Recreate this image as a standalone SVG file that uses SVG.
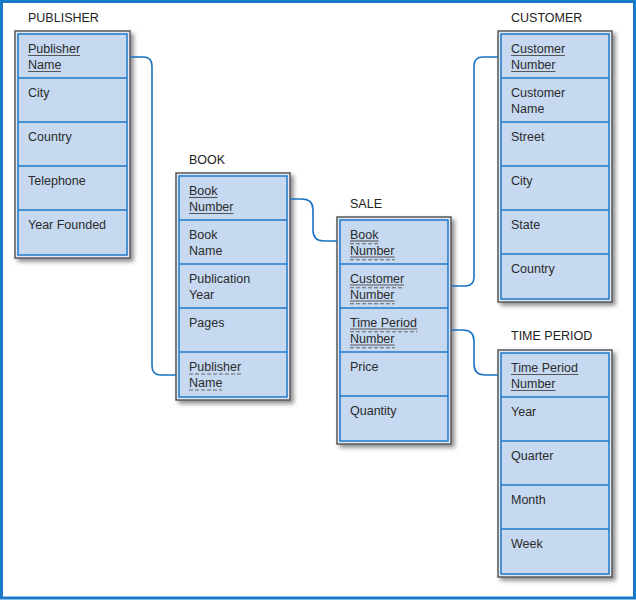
<svg xmlns="http://www.w3.org/2000/svg" width="636" height="600" viewBox="0 0 636 600">
<defs>
<filter id="sh" x="-10%" y="-10%" width="130%" height="130%">
<feDropShadow dx="3" dy="3" stdDeviation="2" flood-color="#444" flood-opacity="0.6"/>
</filter>
<style>
.outer{fill:#dfe9f5;stroke:#5a5a5a;stroke-width:1.5;filter:url(#sh)}
.inner{fill:#c6d9f1;stroke:#1f78c8;stroke-width:1.5}
.row{stroke:#1f78c8;stroke-width:1.5}
.t{font-family:"Liberation Sans",Arial,sans-serif;font-size:12.5px;fill:#2b2b2b}
.title{font-family:"Liberation Sans",Arial,sans-serif;font-size:12.5px;fill:#222}
.u{stroke:#555;stroke-width:1.1}
.d{stroke:#666;stroke-width:1.1;stroke-dasharray:4 2}
.c{fill:none;stroke:#1a72c2;stroke-width:1.6}
</style>
</defs>
<rect x="1.5" y="1.5" width="633" height="596.5" fill="#fff" stroke="#1a7ac8" stroke-width="3"/>

<g id="publisher">
<text class="title" x="28" y="22">PUBLISHER</text>
<rect class="outer" x="15" y="31" width="115" height="227"/>
<rect class="inner" x="18" y="34" width="109" height="221"/>
<line class="row" x1="18" y1="78" x2="127" y2="78"/>
<line class="row" x1="18" y1="122" x2="127" y2="122"/>
<line class="row" x1="18" y1="166" x2="127" y2="166"/>
<line class="row" x1="18" y1="210" x2="127" y2="210"/>
<text class="t" x="28" y="53">Publisher</text><text class="t" x="28" y="69">Name</text>
<line class="u" x1="28" y1="55.5" x2="80" y2="55.5"/><line class="u" x1="28" y1="71.5" x2="61" y2="71.5"/>
<text class="t" x="28" y="97">City</text>
<text class="t" x="28" y="141">Country</text>
<text class="t" x="28" y="185">Telephone</text>
<text class="t" x="28" y="229">Year Founded</text>
</g>

<g id="book">
<text class="title" x="189" y="164">BOOK</text>
<rect class="outer" x="176" y="173" width="114" height="227"/>
<rect class="inner" x="179" y="176" width="108" height="221"/>
<line class="row" x1="179" y1="220" x2="287" y2="220"/>
<line class="row" x1="179" y1="264" x2="287" y2="264"/>
<line class="row" x1="179" y1="308" x2="287" y2="308"/>
<line class="row" x1="179" y1="352" x2="287" y2="352"/>
<text class="t" x="189" y="195">Book</text><text class="t" x="189" y="211">Number</text>
<line class="u" x1="189" y1="197.5" x2="217.5" y2="197.5"/><line class="u" x1="189" y1="213.5" x2="233.5" y2="213.5"/>
<text class="t" x="189" y="239">Book</text><text class="t" x="189" y="255">Name</text>
<text class="t" x="189" y="283">Publication</text><text class="t" x="189" y="299">Year</text>
<text class="t" x="189" y="327">Pages</text>
<text class="t" x="189" y="371">Publisher</text><text class="t" x="189" y="387">Name</text>
<line class="d" x1="189" y1="374" x2="241" y2="374"/><line class="d" x1="189" y1="390" x2="222" y2="390"/>
</g>

<g id="sale">
<text class="title" x="350" y="208">SALE</text>
<rect class="outer" x="337" y="217" width="114" height="227"/>
<rect class="inner" x="340" y="220" width="108" height="221"/>
<line class="row" x1="340" y1="264" x2="448" y2="264"/>
<line class="row" x1="340" y1="308" x2="448" y2="308"/>
<line class="row" x1="340" y1="352" x2="448" y2="352"/>
<line class="row" x1="340" y1="396" x2="448" y2="396"/>
<text class="t" x="350" y="239">Book</text><text class="t" x="350" y="255">Number</text>
<line class="u" x1="350" y1="241" x2="378.5" y2="241"/><line class="d" x1="350" y1="243.8" x2="378.5" y2="243.8"/>
<line class="u" x1="350" y1="257" x2="394.5" y2="257"/><line class="d" x1="350" y1="259.8" x2="394.5" y2="259.8"/>
<text class="t" x="350" y="283">Customer</text><text class="t" x="350" y="299">Number</text>
<line class="u" x1="350" y1="285" x2="404" y2="285"/><line class="d" x1="350" y1="287.8" x2="404" y2="287.8"/>
<line class="u" x1="350" y1="301" x2="394.5" y2="301"/><line class="d" x1="350" y1="303.8" x2="394.5" y2="303.8"/>
<text class="t" x="350" y="327">Time Period</text><text class="t" x="350" y="343">Number</text>
<line class="u" x1="350" y1="329" x2="417.5" y2="329"/><line class="d" x1="350" y1="331.8" x2="417.5" y2="331.8"/>
<line class="u" x1="350" y1="345" x2="394.5" y2="345"/><line class="d" x1="350" y1="347.8" x2="394.5" y2="347.8"/>
<text class="t" x="350" y="371">Price</text>
<text class="t" x="350" y="415">Quantity</text>
</g>

<g id="customer">
<text class="title" x="511" y="22">CUSTOMER</text>
<rect class="outer" x="498" y="31" width="114" height="271"/>
<rect class="inner" x="501" y="34" width="108" height="265"/>
<line class="row" x1="501" y1="78" x2="609" y2="78"/>
<line class="row" x1="501" y1="122" x2="609" y2="122"/>
<line class="row" x1="501" y1="166" x2="609" y2="166"/>
<line class="row" x1="501" y1="210" x2="609" y2="210"/>
<line class="row" x1="501" y1="254" x2="609" y2="254"/>
<text class="t" x="511" y="53">Customer</text><text class="t" x="511" y="69">Number</text>
<line class="u" x1="511" y1="55.5" x2="565" y2="55.5"/><line class="u" x1="511" y1="71.5" x2="555.5" y2="71.5"/>
<text class="t" x="511" y="97">Customer</text><text class="t" x="511" y="113">Name</text>
<text class="t" x="511" y="141">Street</text>
<text class="t" x="511" y="185">City</text>
<text class="t" x="511" y="229">State</text>
<text class="t" x="511" y="273">Country</text>
</g>

<g id="time-period">
<text class="title" x="511" y="340">TIME PERIOD</text>
<rect class="outer" x="498" y="350" width="114" height="227"/>
<rect class="inner" x="501" y="353" width="108" height="221"/>
<line class="row" x1="501" y1="397" x2="609" y2="397"/>
<line class="row" x1="501" y1="441" x2="609" y2="441"/>
<line class="row" x1="501" y1="485" x2="609" y2="485"/>
<line class="row" x1="501" y1="529" x2="609" y2="529"/>
<text class="t" x="511" y="372">Time Period</text><text class="t" x="511" y="388">Number</text>
<line class="u" x1="511" y1="374.5" x2="578.5" y2="374.5"/><line class="u" x1="511" y1="390.5" x2="555.5" y2="390.5"/>
<text class="t" x="511" y="416">Year</text>
<text class="t" x="511" y="460">Quarter</text>
<text class="t" x="511" y="504">Month</text>
<text class="t" x="511" y="548">Week</text>
</g>

<g id="connectors">
<path class="c" d="M130,57 H143 Q152,57 152,66 V366 Q152,375 161,375 H176"/>
<path class="c" d="M290,199 H302 Q313,199 313,210 V230 Q313,241 324,241 H337"/>
<path class="c" d="M451,286 H465 Q474,286 474,277 V66 Q474,57 483,57 H498"/>
<path class="c" d="M451,330 H463 Q474,330 474,341 V364 Q474,375 485,375 H498"/>
</g>
</svg>
